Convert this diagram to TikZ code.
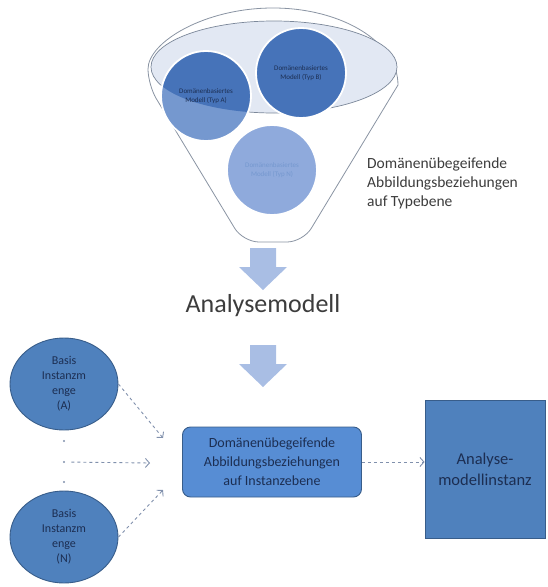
\documentclass[tikz,border=0pt]{standalone}
\usepackage{fontspec}
\setmainfont{Carlito}
\usetikzlibrary{arrows.meta,shapes.geometric,positioning}
\usepackage{xcolor}

\definecolor{funnelline}{HTML}{8A94A3}
\definecolor{rimfill}{HTML}{E2E8F3}
\definecolor{rimline}{HTML}{7C889A}
\definecolor{typedark}{HTML}{4673B9}
\definecolor{typelight}{HTML}{7598CF}
\definecolor{typepale}{HTML}{8FAADC}
\definecolor{bluefill}{HTML}{4F81BD}
\definecolor{blueline}{HTML}{385D8A}
\definecolor{boxfill}{HTML}{578DD4}
\definecolor{navytext}{HTML}{1C2E52}
\definecolor{dashgray}{HTML}{8090AC}
\definecolor{arrowblue}{HTML}{A9BEE4}
\definecolor{labelgray}{HTML}{3C3C3C}

\tikzset{
  typecircle/.style={circle,draw=white,line width=1.8pt,minimum size=90pt,inner sep=0pt,align=center,font=\fontsize{7}{9}\selectfont,text=navytext},
  instcircle/.style={ellipse,draw=blueline,line width=0.9pt,fill=bluefill,minimum width=108pt,minimum height=92pt,inner sep=0pt,align=center,font=\fontsize{12}{15}\selectfont,text=navytext},
  dotmark/.style={circle,fill=dashgray,minimum size=2.2pt,inner sep=0pt},
  dasharrow/.style={draw=dashgray,dashed,line width=0.9pt,-{Straight Barb[length=4pt,width=9pt]}},
  blockarrow/.style={fill=arrowblue}
}

\begin{document}
\begin{tikzpicture}[x=1pt,y=-1pt]
\useasboundingbox (0,0) rectangle (547,587);

% Trichter
\draw[funnelline,line width=0.8pt,fill=white] (148,85) arc[start angle=180,end angle=0,x radius=125pt,y radius=77pt]
  [rounded corners=16pt] -- (303,242) -- (243,242) -- cycle;
\draw[rimline,line width=0.7pt,fill=rimfill] (274,67) ellipse[x radius=123pt,y radius=46pt];

% Typmodelle im Trichter
\fill[typelight] (206,96) circle[radius=45pt];
\begin{scope}
\clip (274,67) ellipse[x radius=123pt,y radius=46pt];
\fill[typedark] (206,96) circle[radius=45pt];
\end{scope}
\node[typecircle] (typA) at (206,96) {Domänenbasiertes\\Modell (Typ A)};
\node[typecircle,fill=typedark] (typB) at (301,73) {Domänenbasiertes\\Modell (Typ B)};
\node[typecircle,fill=typepale,text=typelight] (typN) at (272,170) {Domänenbasiertes\\Modell (Typ N)};

\node[anchor=west,inner sep=0pt,align=left,text=labelgray,font=\fontsize{15.5}{19}\selectfont] (typlabel) at (367,183) {Domänenübegeifende\\Abbildungsbeziehungen\\auf Typebene};

% Pfeile und Analysemodell
\fill[blockarrow] (250,248) -- (276,248) -- (276,267) -- (287,267) -- (263,290) -- (239,267) -- (250,267) -- cycle;
\node[text=labelgray,font=\fontsize{26}{30}\selectfont] (analyse) at (263,306) {Analysemodell};
\fill[blockarrow] (250,345) -- (276,345) -- (276,364) -- (287,364) -- (263,387) -- (239,364) -- (250,364) -- cycle;

% Instanzebene
\node[instcircle] (instA) at (64,384) {Basis\\Instanzm\\enge\\(A)};
\node[instcircle] (instN) at (64,537) {Basis\\Instanzm\\enge\\(N)};
\node[dotmark] (dotA) at (64,441) {};
\node[dotmark] (dotB) at (64,462) {};
\node[dotmark] (dotC) at (64,482) {};

\node[draw=blueline,line width=0.9pt,fill=boxfill,rectangle,rounded corners=8pt,minimum width=179pt,minimum height=70pt,align=center,text=navytext,font=\fontsize{14}{19}\selectfont] (instbox) at (272,462) {Domänenübegeifende\\Abbildungsbeziehungen\\auf Instanzebene};
\node[draw=blueline,line width=0.9pt,fill=bluefill,rectangle,minimum width=120pt,minimum height=138pt,align=center,text=navytext,font=\fontsize{16.5}{21}\selectfont] (instmodel) at (485,469) {Analyse-\\modellinstanz};

\coordinate (endA) at (163,438);
\coordinate (endB) at (150,463);
\coordinate (endN) at (163,490);
\draw[dasharrow] (instA.east) -- (endA);
\draw[dasharrow,shorten <=6pt] (dotB) -- (endB);
\draw[dasharrow] (instN.east) -- (endN);
\draw[dasharrow] (instbox.east) -- (instbox.east -| instmodel.west);
\end{tikzpicture}
\end{document}
